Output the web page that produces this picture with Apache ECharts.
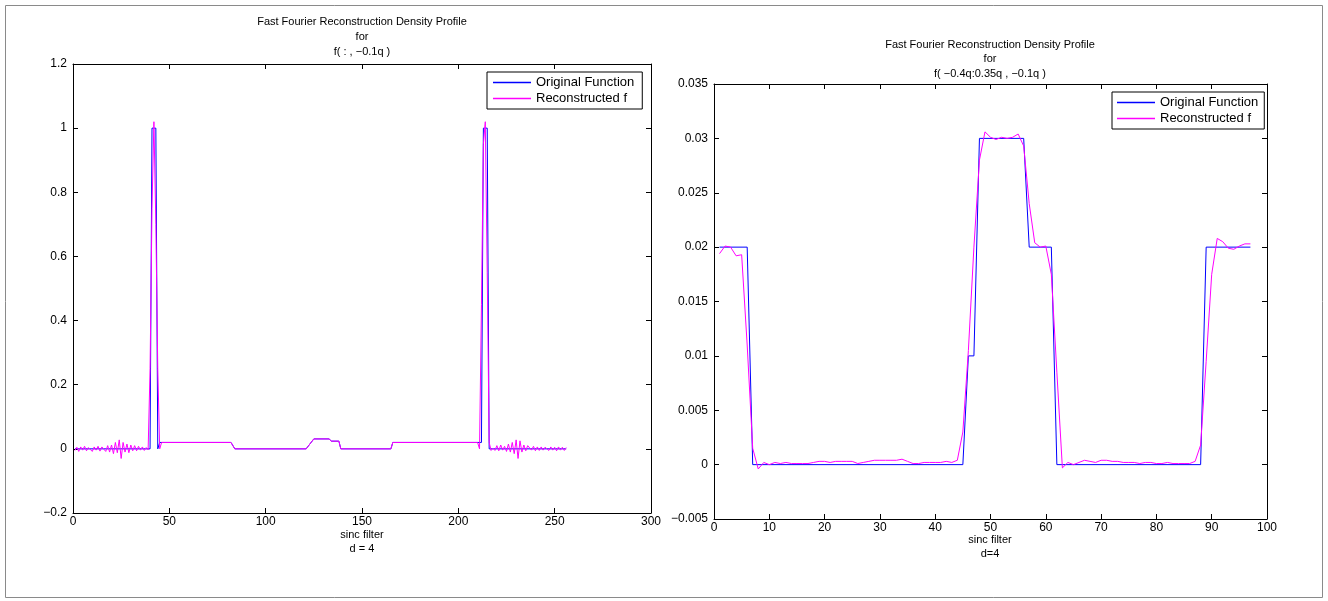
<!DOCTYPE html>
<html>
<head>
<meta charset="utf-8">
<script src="https://cdn.jsdelivr.net/npm/echarts@6/dist/echarts.min.js"></script>
<style>html,body{margin:0;padding:0;background:#fff;}#c{width:1328px;height:601px;}</style>
</head>
<body>
<div id="c"></div>
<script>
// ---------- Left panel: f( : , -0.1q ) ----------
var leftOrigX = [1, 40, 41, 43, 44, 45, 82, 84, 121, 125, 133, 134, 138, 139, 165, 166, 212, 213, 215, 216, 256];
var leftOrigY = [0, 0, 1, 1, 0, 0.02, 0.02, 0, 0, 0.031, 0.031, 0.024, 0.024, 0, 0, 0.02, 0.02, 1, 1, 0, 0];

var leftRecX = [1,2,3,4,5,6,7,8,9,10,11,12,13,14,15,16,17,18,19,20,21,22,23,24,25,26,27,28,29,30,31,32,33,34,35,36,37,38,39,40,41,42,43,44,45,46,
  82,84,121,125,133,134,138,139,165,166,
  210,211,212,213,214,215,216,217,218,219,220,221,222,223,224,225,226,227,228,229,230,231,232,233,234,235,236,237,238,239,240,241,242,243,244,245,246,247,248,249,250,251,252,253,254,255,256];
var leftRecY = [-0.005,0.005,-0.008,0.006,-0.004,0.008,-0.006,0.004,0.007,-0.008,0.006,-0.004,0.008,-0.007,0.006,0.003,-0.008,0.01,-0.01,0.012,-0.015,0.02,-0.012,0.028,-0.03,0.02,-0.01,0.015,-0.012,0.012,-0.006,0.01,-0.006,0.008,-0.004,0.006,-0.005,0.004,-0.003,0.25,0.75,1.02,0.7,0.25,0.0,0.02,
  0.02,0,0,0.031,0.031,0.024,0.024,0,0,0.02,
  0.02,0.0,0.45,0.95,1.02,0.55,0.02,-0.005,0.002,-0.005,0.01,-0.006,0.012,-0.004,0.008,-0.008,0.015,-0.01,0.02,-0.015,0.028,-0.03,0.025,-0.01,0.012,-0.006,0.01,0.008,-0.004,0.008,-0.006,0.006,-0.005,0.006,-0.004,0.005,0.002,-0.005,0.006,-0.004,0.005,-0.006,0.006,-0.004,0.005,-0.005,0.004,0.012];

// ---------- Right panel: f( -0.4q:0.35q , -0.1q ) ----------
var rightOrigX = [1, 6, 7, 45, 46, 47, 48, 56, 57, 61, 62, 88, 89, 97];
var rightOrigY = [0.02, 0.02, 0, 0, 0.01, 0.01, 0.03, 0.03, 0.02, 0.02, 0, 0, 0.02, 0.02];

var rightRecX = [1,2,3,4,5,6,7,8,9,10,11,12,13,14,15,16,17,18,19,20,21,22,23,24,25,26,27,28,29,30,31,32,33,34,35,36,37,38,39,40,41,42,43,44,45,46,47,48,49,50,
  51,52,53,54,55,56,57,58,59,60,61,62,63,64,65,66,67,68,69,70,71,72,73,74,75,76,77,78,79,80,81,82,83,84,85,86,87,88,89,90,91,92,93,94,95,96,97];
var rightRecY = [
  0.0194,0.0201,0.0200,0.0192,0.0193,0.0110,0.0015,-0.0004,0.0002,0.0000,
  0.0002,0.0001,0.0002,0.0001,0.0001,0.0001,0.0001,0.0002,0.0003,0.0003,
  0.0002,0.0003,0.0003,0.0003,0.0003,0.0001,0.0002,0.0003,0.0004,0.0004,
  0.0004,0.0004,0.0004,0.0005,0.0003,0.0001,0.0001,0.0002,0.0002,0.0002,
  0.0002,0.0003,0.0002,0.0004,0.0030,0.0105,0.0200,0.0280,0.0306,0.0301,
  0.0299,0.0301,0.0300,0.0301,0.0304,0.0293,0.0240,0.0204,0.0200,0.0201,
  0.0175,0.0085,-0.0003,0.0002,0.0000,0.0002,0.0004,0.0003,0.0002,0.0004,
  0.0004,0.0003,0.0003,0.0002,0.0002,0.0002,0.0001,0.0002,0.0002,0.0001,
  0.0001,0.0002,0.0001,0.0001,0.0001,0.0001,0.0003,0.0018,0.0095,0.0175,
  0.0208,0.0205,0.0199,0.0198,0.0201,0.0203,0.0203];

var leftXTicks = {min: 0, max: 300, interval: 50};
var leftYTicks = {min: -0.2, max: 1.2, interval: 0.2};
var rightXTicks = {min: 0, max: 100, interval: 10};
var rightYTicks = {min: -0.005, max: 0.035, interval: 0.005};

var seriesNames = ['Original Function', 'Reconstructed f'];
var leftTitle = ['Fast Fourier Reconstruction Density Profile', 'for', 'f( : , \u22120.1q )'];
var rightTitle = ['Fast Fourier Reconstruction Density Profile', 'for', 'f( \u22120.4q:0.35q , \u22120.1q )'];
var leftXName = ['sinc filter', 'd = 4'];
var rightXName = ['sinc filter', 'd=4'];

function pairs(xs, ys) { return xs.map(function (x, k) { return [x, ys[k]]; }); }
var FONT = '"Liberation Sans", Arial, Helvetica, sans-serif';
function fmt(v) { return String(+v.toFixed(4)).replace('-', '\u2212'); }

function mkX(t, gi, pos, labels) {
  return {
    type: 'value', gridIndex: gi, position: pos, min: t.min, max: t.max, interval: t.interval,
    splitLine: {show: false},
    axisLine: {show: true, onZero: false, lineStyle: {color: '#000', width: 1}},
    axisTick: {show: true, inside: true, length: 5, lineStyle: {color: '#000'}},
    axisLabel: {show: labels, color: '#000', fontFamily: FONT, fontSize: 12, margin: 3, formatter: fmt}
  };
}
function mkY(t, gi, pos, labels) {
  return {
    type: 'value', gridIndex: gi, position: pos, min: t.min, max: t.max, interval: t.interval,
    splitLine: {show: false},
    axisLine: {show: true, onZero: false, lineStyle: {color: '#000', width: 1}},
    axisTick: {show: true, inside: true, length: 5, lineStyle: {color: '#000'}},
    axisLabel: {show: labels, color: '#000', fontFamily: FONT, fontSize: 12, margin: 6, formatter: fmt}
  };
}

function textLines(lines, cx, ys, size) {
  return lines.map(function (s, k) {
    return {type: 'text', x: cx, y: ys[k], silent: true,
      style: {text: s, fill: '#000', font: size + 'px ' + FONT, textAlign: 'center', textVerticalAlign: 'middle'}};
  });
}

function line(name, data, xi, yi, color) {
  return {name: name, type: 'line', xAxisIndex: xi, yAxisIndex: yi, data: data,
    showSymbol: false, symbol: 'none', smooth: false, animation: false,
    color: color,
    lineStyle: {color: color, width: 1}, itemStyle: {color: color}};
}

var chart = echarts.init(document.getElementById('c'), null, {renderer: 'canvas'});
var LINE_ICON = 'path://M0,0H40V1.5H0Z';
var legendData = [
  {name: seriesNames[0], icon: LINE_ICON, itemStyle: {color: '#0000ff', borderWidth: 0}},
  {name: seriesNames[1], icon: LINE_ICON, itemStyle: {color: '#ff00ff', borderWidth: 0}}
];
var legendBase = {
  orient: 'vertical', data: legendData, itemWidth: 38, itemHeight: 14,
  borderColor: '#000', borderWidth: 1, backgroundColor: '#fff', borderRadius: 0,
  itemGap: 3, selectedMode: false,
  textStyle: {color: '#000', fontFamily: FONT, fontSize: 13}
};
var lg0 = Object.assign({}, legendBase, {left: 487, top: 72, padding: [4, 8, 4, 6]});
var lg1 = Object.assign({}, legendBase, {left: 1112, top: 92, padding: [4, 6, 4, 5]});

chart.setOption({
  backgroundColor: '#fff',
  animation: false,
  color: ['#0000ff', '#ff00ff'],
  grid: [
    {left: 73, top: 64, width: 578, height: 449, show: false},
    {left: 714, top: 84, width: 553, height: 435, show: false}
  ],
  xAxis: [
    mkX(leftXTicks, 0, 'bottom', true), mkX(rightXTicks, 1, 'bottom', true),
    mkX(leftXTicks, 0, 'top', false), mkX(rightXTicks, 1, 'top', false)
  ],
  yAxis: [
    mkY(leftYTicks, 0, 'left', true), mkY(rightYTicks, 1, 'left', true),
    mkY(leftYTicks, 0, 'right', false), mkY(rightYTicks, 1, 'right', false)
  ],
  legend: [lg0, lg1],
  series: [
    line(seriesNames[0], pairs(leftOrigX, leftOrigY), 0, 0, '#0000ff'),
    line(seriesNames[1], pairs(leftRecX, leftRecY), 0, 0, '#ff00ff'),
    line(seriesNames[0], pairs(rightOrigX, rightOrigY), 1, 1, '#0000ff'),
    line(seriesNames[1], pairs(rightRecX, rightRecY), 1, 1, '#ff00ff')
  ],
  graphic: [
    {type: 'rect', shape: {x: 5.5, y: 5.5, width: 1317, height: 592}, silent: true, z: -10,
      style: {fill: 'none', stroke: '#8a8a8a', lineWidth: 1}}
  ].concat(
    textLines(leftTitle, 362, [22, 37, 52], 11),
    textLines(rightTitle, 990, [45, 59, 74], 11),
    textLines(leftXName, 362, [535, 549], 11),
    textLines(rightXName, 990, [540, 554], 11)
  )
});
</script>
</body>
</html>
